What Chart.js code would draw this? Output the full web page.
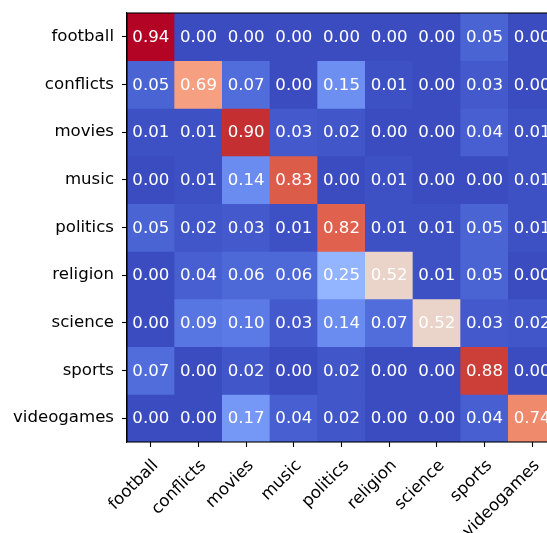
<!DOCTYPE html>
<html><head><meta charset="utf-8">
<script src="https://cdn.jsdelivr.net/npm/chart.js@4"></script>
<style>html,body{margin:0;padding:0;background:#fff;overflow:hidden;width:547px;height:533px}#wrap{width:560px;height:533px}</style>
</head><body><div id="wrap"><canvas id="c" width="560" height="533" style="width:560px;height:533px"></canvas></div>
<script>
const trueLabels = ['football','conflicts','movies','music','politics','religion','science','sports','videogames'];
const predLabels = ['football','conflicts','movies','music','politics','religion','science','sports','videogames'];
const rowFootball   = [0.94,0.00,0.00,0.00,0.00,0.00,0.00,0.05,0.00];
const rowConflicts  = [0.05,0.69,0.07,0.00,0.15,0.01,0.00,0.03,0.00];
const rowMovies     = [0.01,0.01,0.90,0.03,0.02,0.00,0.00,0.04,0.01];
const rowMusic      = [0.00,0.01,0.14,0.83,0.00,0.01,0.00,0.00,0.01];
const rowPolitics   = [0.05,0.02,0.03,0.01,0.82,0.01,0.01,0.05,0.01];
const rowReligion   = [0.00,0.04,0.06,0.06,0.25,0.52,0.01,0.05,0.00];
const rowScience    = [0.00,0.09,0.10,0.03,0.14,0.07,0.52,0.03,0.02];
const rowSports     = [0.07,0.00,0.02,0.00,0.02,0.00,0.00,0.88,0.00];
const rowVideogames = [0.00,0.00,0.17,0.04,0.02,0.00,0.00,0.04,0.74];
const matrix = [rowFootball,rowConflicts,rowMovies,rowMusic,rowPolitics,rowReligion,rowScience,rowSports,rowVideogames];

// coolwarm colormap table
const CW = [[59,76,192],[68,90,204],[77,104,215],[87,117,225],[98,130,234],[108,142,241],[119,154,247],[130,165,251],[141,176,254],[152,185,255],[163,194,255],[174,201,253],[184,208,249],[194,213,244],[204,217,238],[213,219,230],[221,221,221],[229,216,209],[236,211,197],[241,204,184],[245,196,172],[247,187,160],[247,177,148],[247,166,135],[244,154,123],[241,141,111],[236,127,99],[229,112,88],[222,96,77],[213,80,66],[203,62,56],[192,40,47],[180,4,38]];
const vmin = 0, vmax = Math.max(...matrix.flat());
function cmap(v){
  let t = (v - vmin)/(vmax - vmin); t = Math.max(0, Math.min(1, t));
  const p = t*(CW.length-1), i = Math.min(Math.floor(p), CW.length-2), f = p - i;
  const a = CW[i], b = CW[i+1];
  return 'rgb(' + a.map((x,k)=>Math.round(x + (b[k]-x)*f)).join(',') + ')';
}

const FONT = {family:'DejaVu Sans', size:16.6};
const datasets = matrix.map((row, r) => ({
  label: trueLabels[r],
  data: row.map(() => [r - 0.5, r + 0.5]),
  values: row,
  backgroundColor: row.map(cmap),
  borderWidth: 0,
  grouped: false,
  barPercentage: 1,
  categoryPercentage: 1
}));

const cellText = {
  id: 'cellText',
  afterDatasetsDraw(chart){
    const ctx = chart.ctx;
    ctx.save();
    ctx.font = '16.6px "DejaVu Sans"';
    ctx.fillStyle = '#ffffff';
    ctx.textAlign = 'center';
    ctx.textBaseline = 'middle';
    chart.data.datasets.forEach((ds, r) => {
      chart.getDatasetMeta(r).data.forEach((el, c) => {
        const p = el.getCenterPoint();
        ctx.fillText(ds.values[c].toFixed(2), p.x, p.y + 1);
      });
    });
    const a = chart.chartArea;
    ctx.strokeStyle = '#000';
    ctx.lineWidth = 1.1;
    ctx.strokeRect(a.left, a.top, a.right - a.left, a.bottom - a.top);
    ctx.restore();
  }
};

new Chart(document.getElementById('c'), {
  type: 'bar',
  data: { labels: predLabels, datasets },
  options: {
    responsive: false,
    animation: false,
    devicePixelRatio: 1,
    layout: { padding: { left: 0, top: 13, right: 4, bottom: 0 } },
    plugins: { legend: {display:false}, tooltip: {enabled:false} },
    scales: {
      x: {
        type: 'category',
        offset: true,
        afterFit(s){ s.height = 91; s.paddingLeft = 0; s.paddingRight = 0; },
        grid: { offset: false, drawOnChartArea: false, drawTicks: true, tickLength: 5, tickWidth: 1.1, tickColor: '#000' },
        border: { display: true, color: '#000', width: 1.1 },
        ticks: { color: '#000', font: FONT, minRotation: 45, maxRotation: 45, autoSkip: false, padding: 9, labelOffset: 5 }
      },
      y: {
        type: 'linear',
        reverse: true,
        min: -0.5, max: 8.5,
        afterFit(s){ s.width = 127; s.paddingTop = 0; s.paddingBottom = 0; },
        afterBuildTicks(s){ s.ticks = trueLabels.map((_, i) => ({value: i})); },
        grid: { drawOnChartArea: false, drawTicks: true, tickLength: 5, tickWidth: 1.1, tickColor: '#000' },
        border: { display: true, color: '#000', width: 1.1 },
        ticks: { color: '#000', font: FONT, padding: 8, autoSkip: false, callback: (v) => trueLabels[v] }
      }
    }
  },
  plugins: [cellText]
});
</script></body></html>
